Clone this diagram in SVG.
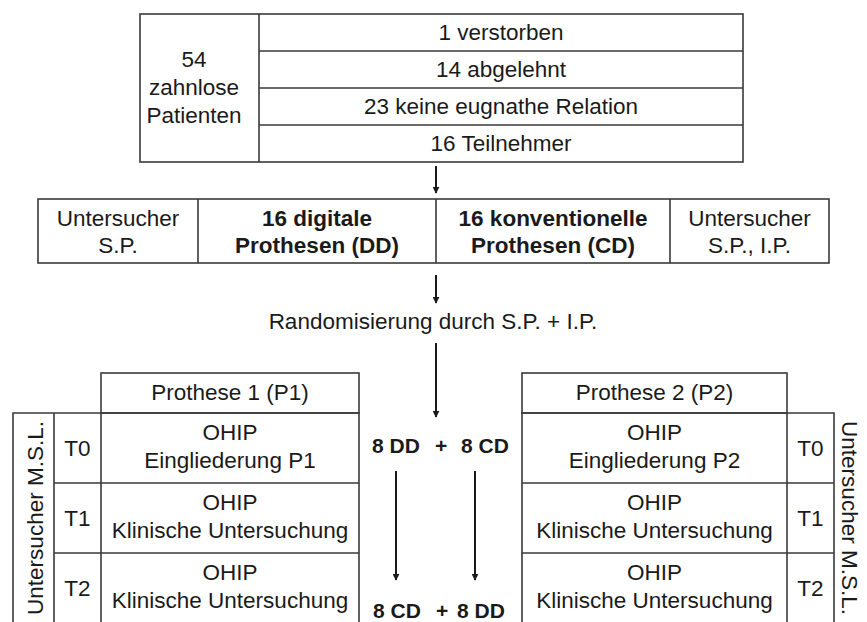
<svg xmlns="http://www.w3.org/2000/svg" width="867" height="622" viewBox="0 0 867 622">
<style>
.ln{fill:none;stroke:#3a3a3a;stroke-width:1.6}
.t{font-family:"Liberation Sans",Arial,sans-serif;font-size:22.5px;fill:#1a1a1a;text-anchor:middle}
.b{font-weight:bold}
.arr{fill:none;stroke:#1a1a1a;stroke-width:2;marker-end:url(#ah)}
</style>
<defs>
<marker id="ah" viewBox="0 0 10 10" refX="9" refY="5" markerWidth="7" markerHeight="7" markerUnits="userSpaceOnUse" orient="auto"><path d="M0,0 L10,5 L0,10 z" fill="#1a1a1a"/></marker>
</defs>
<rect width="867" height="622" fill="#ffffff"/>

<g id="screening">
<rect class="ln" x="140" y="14" width="603" height="148"/>
<path class="ln" d="M259,14 V162 M259,51 H743 M259,88 H743 M259,125 H743"/>
<text class="t" x="194" y="67">54</text>
<text class="t" x="194" y="95">zahnlose</text>
<text class="t" x="194" y="123">Patienten</text>
<text class="t" x="501" y="40">1 verstorben</text>
<text class="t" x="501" y="77">14 abgelehnt</text>
<text class="t" x="501" y="114">23 keine eugnathe Relation</text>
<text class="t" x="501" y="151">16 Teilnehmer</text>
</g>

<g id="groups">
<rect class="ln" x="38" y="199" width="791" height="64"/>
<path class="ln" d="M198,199 V263 M436,199 V263 M670,199 V263"/>
<text class="t" x="118" y="226">Untersucher</text>
<text class="t" x="118" y="253">S.P.</text>
<text class="t b" x="317" y="226">16 digitale</text>
<text class="t b" x="317" y="253">Prothesen (DD)</text>
<text class="t b" x="553" y="226">16 konventionelle</text>
<text class="t b" x="553" y="253">Prothesen (CD)</text>
<text class="t" x="749.5" y="226">Untersucher</text>
<text class="t" x="749.5" y="253">S.P., I.P.</text>
</g>

<g id="randomisierung">
<text class="t" x="433" y="329">Randomisierung durch S.P. + I.P.</text>
</g>

<g id="p1-table">
<rect class="ln" x="101" y="373" width="258" height="40"/>
<path class="ln" d="M13,625 V413 H359 V625 M54,413 V625 M101,413 V625 M54,483 H359 M54,553 H359"/>
<text class="t" x="230" y="400">Prothese 1 (P1)</text>
<text class="t" transform="translate(43,518) rotate(-90)" x="0" y="0">Untersucher M.S.L.</text>
<text class="t" x="77.5" y="456">T0</text>
<text class="t" x="77.5" y="526">T1</text>
<text class="t" x="77.5" y="596">T2</text>
<text class="t" x="230" y="440">OHIP</text>
<text class="t" x="230" y="468">Eingliederung P1</text>
<text class="t" x="230" y="510">OHIP</text>
<text class="t" x="230" y="538">Klinische Untersuchung</text>
<text class="t" x="230" y="580">OHIP</text>
<text class="t" x="230" y="608">Klinische Untersuchung</text>
</g>

<g id="allocation">
<text class="t b" y="453" style="font-size:21px;text-anchor:start"><tspan x="372">8 DD</tspan><tspan x="435">+</tspan><tspan x="461">8 CD</tspan></text>
<text class="t b" y="618" style="font-size:21px;text-anchor:start"><tspan x="373">8 CD</tspan><tspan x="436">+</tspan><tspan x="457">8 DD</tspan></text>
</g>

<g id="p2-table">
<rect class="ln" x="522" y="373" width="265" height="40"/>
<path class="ln" d="M522,625 V413 H834 V625 M787,413 V625 M522,483 H834 M522,553 H834"/>
<text class="t" x="654.5" y="400">Prothese 2 (P2)</text>
<text class="t" transform="translate(842,518) rotate(90)" x="0" y="0">Untersucher M.S.L.</text>
<text class="t" x="810.5" y="456">T0</text>
<text class="t" x="810.5" y="526">T1</text>
<text class="t" x="810.5" y="596">T2</text>
<text class="t" x="654.5" y="440">OHIP</text>
<text class="t" x="654.5" y="468">Eingliederung P2</text>
<text class="t" x="654.5" y="510">OHIP</text>
<text class="t" x="654.5" y="538">Klinische Untersuchung</text>
<text class="t" x="654.5" y="580">OHIP</text>
<text class="t" x="654.5" y="608">Klinische Untersuchung</text>
</g>

<g id="connectors">
<path class="arr" d="M436,166 V193"/>
<path class="arr" d="M436,275 V303"/>
<path class="arr" d="M436,343 V417"/>
<path class="arr" d="M396,471 V580"/>
<path class="arr" d="M475,471 V580"/>
</g>
</svg>
